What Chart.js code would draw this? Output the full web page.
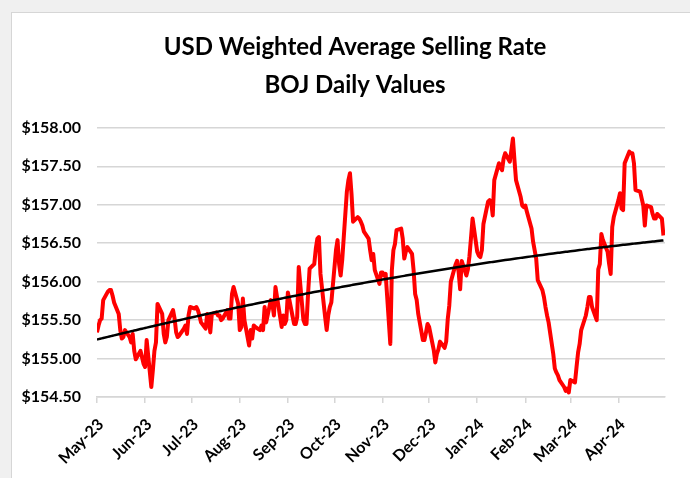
<!DOCTYPE html>
<html>
<head>
<meta charset="utf-8">
<script src="https://cdn.jsdelivr.net/npm/chart.js@4.4.1/dist/chart.umd.min.js"></script>
<style>
  html, body { margin: 0; padding: 0; background: #f0f0f0; width: 690px; height: 478px; overflow: hidden; }
  #card { position: absolute; left: 11px; top: 12px; width: 700px; height: 500px; background: #fff; border: 1px solid #d6d6d6; }
  #chart { position: absolute; left: 0; top: 0; }
</style>
</head>
<body>
<div id="card"></div>
<canvas id="chart" width="690" height="478"></canvas>
<script>
// Chart text
const titleLines = ["USD Weighted Average Selling Rate", "BOJ Daily Values"];
const monthLabels = ["May-23", "Jun-23", "Jul-23", "Aug-23", "Sep-23", "Oct-23",
  "Nov-23", "Dec-23", "Jan-24", "Feb-24", "Mar-24", "Apr-24"];

// Y axis range
const yMin = 154.5;
const yMax = 158;
const yStep = 0.5;

// First business day of the series (1 May 2023), one value per weekday
const startDate = new Date(2023, 4, 1);
const endDate = new Date(2024, 4, 1);

// Daily selling rate
const sellingRate = [
  155.34, 155.43, 155.50, 155.52, 155.76, 155.87, 155.89, 155.89, 155.82, 155.73,
  155.58, 155.37, 155.26, 155.28, 155.37, 155.28, 155.21, 155.32, 155.10, 154.99,
  155.10, 155.02, 154.93, 154.89, 155.24, 154.63, 154.85, 155.10, 155.21, 155.71,
  155.58, 155.32, 155.21, 155.28, 155.50, 155.63, 155.52, 155.34, 155.28, 155.30,
  155.39, 155.43, 155.32, 155.56, 155.67, 155.65, 155.67, 155.63, 155.56, 155.47,
  155.39, 155.58, 155.54, 155.34, 155.58, 155.60, 155.56, 155.56, 155.50, 155.52,
  155.63, 155.52, 155.52, 155.84, 155.93, 155.71, 155.37, 155.41, 155.78, 155.50,
  155.17, 155.37, 155.26, 155.43, 155.41, 155.37, 155.43, 155.37, 155.67, 155.47,
  155.76, 155.71, 155.56, 155.93, 155.80, 155.41, 155.56, 155.45, 155.50, 155.86,
  155.55, 155.45, 155.45, 155.54, 156.19, 155.50, 155.45, 155.45, 155.84, 156.17,
  156.23, 156.43, 156.56, 156.58, 156.10, 155.54, 155.37, 155.56, 155.67, 155.73,
  156.41, 156.54, 156.23, 156.08, 156.28, 157.17, 157.32, 157.41, 157.14, 156.78,
  156.84, 156.82, 156.78, 156.73, 156.65, 156.56, 156.41, 156.28, 156.36, 156.15,
  155.97, 156.12, 156.12, 156.08, 156.10, 155.19, 156.15, 156.41, 156.49, 156.67,
  156.69, 156.56, 156.30, 156.39, 156.45, 156.36, 156.15, 155.84, 155.76, 155.58,
  155.24, 155.24, 155.34, 155.45, 155.41, 155.11, 154.95, 155.06, 155.12, 155.22,
  155.14, 155.22, 155.51, 155.69, 156.00, 156.22, 156.27, 156.13, 155.90, 156.27,
  156.08, 156.16, 156.33, 156.57, 156.82, 156.39, 156.34, 156.32, 156.41, 156.75,
  157.04, 157.06, 157.04, 156.86, 157.32, 157.54, 157.49, 157.45, 157.60, 157.67,
  157.56, 157.71, 157.86, 157.58, 157.32, 157.10, 156.99, 156.97, 156.99, 156.91,
  156.69, 156.52, 156.41, 156.30, 156.02, 155.89, 155.80, 155.67, 155.56, 155.47,
  155.06, 154.87, 154.82, 154.78, 154.72, 154.63, 154.58, 154.61, 154.56, 154.72,
  154.69, 154.89, 155.08, 155.19, 155.37, 155.56, 155.67, 155.80, 155.80, 155.67,
  155.50, 156.16, 156.23, 156.62, 156.54, 156.39, 156.23, 156.10, 156.71, 156.84,
  157.06, 157.15, 156.95, 156.93, 157.54, 157.69, 157.67, 157.67, 157.54, 157.19,
  157.17, 157.08, 156.99, 156.73, 156.99, 156.97, 156.88, 156.82, 156.82, 156.88,
  156.82, 156.60
];

// days since start date
function dayOffset(d) {
  return Math.round((d - startDate) / 86400000);
}

// Weekday offsets for each value
function buildBusinessDays(count) {
  const days = [];
  const d = new Date(startDate);
  while (days.length < count) {
    const wd = d.getDay();
    if (wd !== 0 && wd !== 6) days.push(dayOffset(d));
    d.setDate(d.getDate() + 1);
  }
  return days;
}

// Month start offsets for the x ticks
const monthOffsets = monthLabels.map((_, i) => dayOffset(new Date(2023, 4 + i, 1)));
const axisMax = dayOffset(endDate);

const xDays = buildBusinessDays(sellingRate.length);
const rateData = sellingRate.map((v, i) => ({ x: xDays[i], y: v }));

// Polynomial (order 2) trendline, least squares like Excel
function quadraticFit(xs, ys) {
  const n = xs.length;
  let s = [0, 0, 0, 0, 0];
  let t = [0, 0, 0];
  for (let i = 0; i < n; i++) {
    const x = xs[i];
    const y = ys[i];
    let p = 1;
    for (let k = 0; k < 5; k++) {
      s[k] += p;
      if (k < 3) t[k] += p * y;
      p *= x;
    }
  }
  const m = [
    [s[0], s[1], s[2], t[0]],
    [s[1], s[2], s[3], t[1]],
    [s[2], s[3], s[4], t[2]]
  ];
  // gaussian elimination
  for (let c = 0; c < 3; c++) {
    for (let r = c + 1; r < 3; r++) {
      const f = m[r][c] / m[c][c];
      for (let k = c; k < 4; k++) m[r][k] -= f * m[c][k];
    }
  }
  const coef = [0, 0, 0];
  for (let r = 2; r >= 0; r--) {
    let v = m[r][3];
    for (let k = r + 1; k < 3; k++) v -= m[r][k] * coef[k];
    coef[r] = v / m[r][r];
  }
  return coef;
}

const coef = quadraticFit(xDays, sellingRate);
const trendData = xDays.map(x => ({ x: x, y: coef[0] + coef[1] * x + coef[2] * x * x }));

const fontFamily = "Lato, 'Open Sans', sans-serif";
const gridColor = "#d6d6d6";

new Chart(document.getElementById("chart"), {
  type: "line",
  data: {
    datasets: [
      {
        label: "Trend",
        data: trendData,
        borderColor: "#000000",
        borderWidth: 2.5,
        pointRadius: 0,
        order: 1
      },
      {
        label: "Selling Rate",
        data: rateData,
        borderColor: "#ff0000",
        borderWidth: 4,
        borderJoinStyle: "round",
        pointRadius: 0,
        tension: 0,
        order: 2
      }
    ]
  },
  options: {
    responsive: false,
    animation: false,
    layout: { padding: { left: 45, right: 25, top: 0, bottom: 0 } },
    plugins: {
      legend: { display: false },
      tooltip: { enabled: false },
      title: {
        display: true,
        text: titleLines,
        color: "#000",
        font: { family: fontFamily, size: 24, weight: "bold", lineHeight: 1.58 },
        padding: { top: 28, bottom: 24 }
      }
    },
    scales: {
      x: {
        type: "linear",
        min: 0,
        max: axisMax,
        afterBuildTicks: function (scale) {
          scale.ticks = monthOffsets.map(v => ({ value: v }));
        },
        afterFit: function (scale) {
          scale.height = 81;
        },
        grid: { drawOnChartArea: false, drawTicks: true, tickLength: 6, color: gridColor, lineWidth: 1.5 },
        border: { display: true, color: gridColor, width: 1.5 },
        ticks: {
          autoSkip: false,
          minRotation: 45,
          maxRotation: 45,
          padding: 12,
          labelOffset: 4,
          color: "#000",
          font: { family: fontFamily, size: 16, weight: "bold" },
          callback: function (value) {
            return monthLabels[monthOffsets.indexOf(value)];
          }
        }
      },
      y: {
        min: yMin,
        max: yMax,
        afterFit: function (scale) {
          scale.width = 52;
          // labels run past the padded edge, so don't clip them
          scale._computeLabelArea = function () { return null; };
        },
        grid: { drawTicks: false, color: gridColor, lineWidth: 1.5 },
        border: { display: false },
        ticks: {
          stepSize: yStep,
          padding: 16,
          color: "#000",
          font: { family: fontFamily, size: 16, weight: "bold" },
          callback: function (value) {
            return "$" + value.toFixed(2);
          }
        }
      }
    }
  }
});
</script>
</body>
</html>
